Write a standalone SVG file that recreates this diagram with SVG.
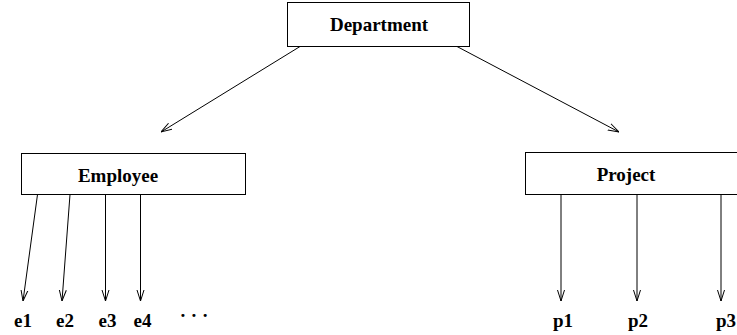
<svg xmlns="http://www.w3.org/2000/svg" width="737" height="335" viewBox="0 0 737 335">
  <style>
    .box { fill: #ffffff; stroke: #000000; stroke-width: 1; }
    .label { font-family: "Liberation Serif", "Times New Roman", serif; font-weight: bold; font-size: 19px; fill: #000000; text-anchor: middle; }
    .edge { stroke: #000000; stroke-width: 1; fill: none; marker-end: url(#arrow); }
  </style>
  <defs>
    <marker id="arrow" viewBox="0 0 11 9" refX="11" refY="4.5" markerWidth="11" markerHeight="9" markerUnits="userSpaceOnUse" orient="auto">
      <path d="M0,1 L11,4.5 L0,8" fill="none" stroke="#000000" stroke-width="1"/>
    </marker>
  </defs>

  <g id="connectors">
    <line class="edge" x1="300" y1="46.5" x2="161" y2="132"/>
    <line class="edge" x1="457" y1="46.5" x2="619" y2="132"/>
    <line class="edge" x1="37.5" y1="194.5" x2="23" y2="301"/>
    <line class="edge" x1="70" y1="194.5" x2="62" y2="301"/>
    <line class="edge" x1="105.5" y1="194.5" x2="105.5" y2="301"/>
    <line class="edge" x1="140.5" y1="194.5" x2="140.5" y2="301"/>
    <line class="edge" x1="561" y1="194.5" x2="561" y2="301"/>
    <line class="edge" x1="637" y1="194.5" x2="637" y2="301"/>
    <line class="edge" x1="721" y1="194.5" x2="721" y2="301"/>
  </g>

  <g id="department">
    <rect class="box" x="287.5" y="2.5" width="182" height="44"/>
    <text class="label" x="379" y="31">Department</text>
  </g>
  <g id="employee">
    <rect class="box" x="21.5" y="153.5" width="224" height="41"/>
    <text class="label" x="118" y="182">Employee</text>
  </g>
  <g id="project">
    <rect class="box" x="525.5" y="152.5" width="215" height="42"/>
    <text class="label" x="626" y="181">Project</text>
  </g>

  <g id="e1"><text class="label" x="23" y="327">e1</text></g>
  <g id="e2"><text class="label" x="65" y="327">e2</text></g>
  <g id="e3"><text class="label" x="107.5" y="327">e3</text></g>
  <g id="e4"><text class="label" x="142.5" y="327">e4</text></g>
  <g id="more"><text class="label" x="194" y="322">· · ·</text></g>
  <g id="p1"><text class="label" x="563" y="327">p1</text></g>
  <g id="p2"><text class="label" x="638" y="327">p2</text></g>
  <g id="p3"><text class="label" x="726" y="327">p3</text></g>
</svg>
